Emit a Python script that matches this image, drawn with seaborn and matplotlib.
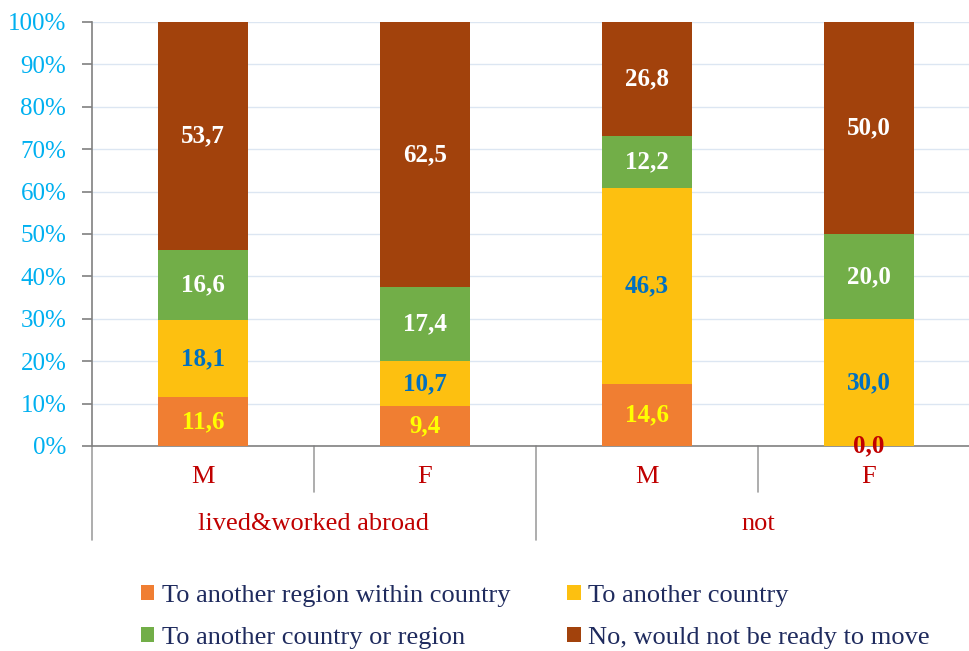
import numpy as np
import pandas as pd
import matplotlib
matplotlib.use("Agg")
import matplotlib.pyplot as plt
import seaborn as sns
from matplotlib.patches import Patch

# ---- data ----
groups = ["lived&worked abroad", "lived&worked abroad", "not", "not"]
genders = ["M", "F", "M", "F"]
series_names = ["To another region within country", "To another country",
                "To another country or region", "No, would not be ready to move"]
region_within = [11.6, 9.4, 14.6, 0.0]
another_country = [18.1, 10.7, 46.3, 30.0]
country_or_region = [16.6, 17.4, 12.2, 20.0]
not_ready = [53.7, 62.5, 26.8, 50.0]
y_ticks = [0, 10, 20, 30, 40, 50, 60, 70, 80, 90, 100]

colors = ["#F07E32", "#FDC010", "#72AE48", "#A2420C"]
label_colors = ["#FFFF00", "#0070C0", "#FFFFFF", "#FFFFFF"]

sns.set_theme(style="white")
plt.rcParams["font.family"] = ["Liberation Serif", "DejaVu Serif"]

fig = plt.figure(figsize=(9.70, 6.51), dpi=100)
ax = fig.add_axes([92/970, 1-446/651, 888/970, 424/651])

xcats = [f"{i}" for i in range(4)]
series = [region_within, another_country, country_or_region, not_ready]
cum = np.cumsum(np.array(series), axis=0)

# draw cumulative totals top-down so each layer covers the ones above it
for k in range(3, -1, -1):
    df = pd.DataFrame({"x": xcats, "y": cum[k]})
    sns.barplot(data=df, x="x", y="y", color=colors[k], width=0.405,
                saturation=1, ax=ax, zorder=3, edgecolor="none")

# value labels
for k in range(4):
    for i in range(4):
        v = series[k][i]
        bottom = cum[k][i] - v
        if v == 0:
            ax.text(i, 0, f"{v:.1f}".replace(".", ","), ha="center", va="center",
                    color="#C00000", fontsize=18, fontweight="bold", zorder=5)
        else:
            ax.text(i, bottom + v/2, f"{v:.1f}".replace(".", ","), ha="center",
                    va="center", color=label_colors[k], fontsize=18,
                    fontweight="bold", zorder=5)

ax.set_xlim(-0.5, 3.5)
ax.set_ylim(0, 100)
ax.set_yticks(y_ticks)
ax.set_yticklabels([f"{t}%" for t in y_ticks])
ax.tick_params(axis="y", colors="#808080", labelcolor="#00B0F0", labelsize=18,
               length=7, width=1.2, pad=11.5, left=True, direction="out")
ax.grid(axis="y", color="#DCE6F2", linewidth=1, zorder=0)
ax.set_axisbelow(True)
ax.set_xticks([])
ax.set_xlabel("")
ax.set_ylabel("")
for s in ["top", "right"]:
    ax.spines[s].set_visible(False)
for s in ["left", "bottom"]:
    ax.spines[s].set_color("#808080")
    ax.spines[s].set_linewidth(1.2)

# multi-level category axis
tr = ax.get_xaxis_transform()
for xp, ylow in [(-0.5, -0.222), (0.5, -0.108), (1.5, -0.222), (2.5, -0.108)]:
    ax.plot([xp, xp], [0, ylow], transform=tr, color="#A0A0A0", lw=1.2,
            clip_on=False)
for i, g in enumerate(genders):
    ax.text(i, -0.073, g, transform=tr, ha="center", va="center",
            color="#C00000", fontsize=19)
for xc, g in [(0.5, groups[0]), (2.5, groups[2])]:
    ax.text(xc, -0.184, g, transform=tr, ha="center", va="center",
            color="#C00000", fontsize=19)

# legend filled row-wise (matplotlib fills column-wise -> reorder)
order = [0, 2, 1, 3]
handles = [Patch(facecolor=colors[j], edgecolor="none") for j in order]
labels = [series_names[j] for j in order]
leg = fig.legend(handles, labels, loc="center left",
                 bbox_to_anchor=(117/970, 1-617/651), ncol=2, frameon=False,
                 fontsize=19, handlelength=0.5, handleheight=0.5,
                 handletextpad=0.3, columnspacing=2.16, labelspacing=0.77)
for t in leg.get_texts():
    t.set_color("#1F2B5E")

fig.savefig("out.png", dpi=100)
